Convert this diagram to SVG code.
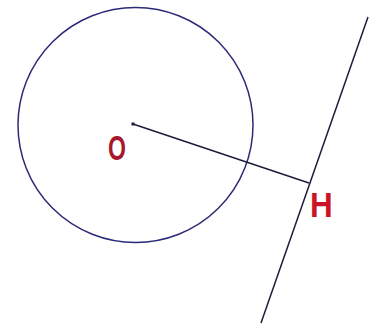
<svg xmlns="http://www.w3.org/2000/svg" width="381" height="327" viewBox="0 0 381 327">
<style>
.shape{fill:none;stroke:#2a2a78;stroke-width:1.5}
.ln{fill:none;stroke:#1c1c3c;stroke-width:1.5}
.lbl{font-family:"Liberation Sans",Arial,sans-serif;font-weight:bold;font-size:35px}
</style>
<rect width="381" height="327" fill="#ffffff"/>
<g id="circle"><circle class="shape" cx="135.5" cy="125" r="117.5"/></g>
<g id="connectors">
<line class="ln" x1="368" y1="17" x2="261" y2="323"/>
<line class="ln" x1="133" y1="124" x2="309" y2="183"/>
</g>
<g id="O">
<rect x="131.5" y="122.5" width="3" height="3" fill="#1c1c3c"/>
<text class="lbl" fill="#a8182c" transform="translate(108,160) scale(0.66,1)">O</text>
</g>
<g id="H">
<text class="lbl" fill="#cc1428" transform="translate(310,217) scale(0.9,1)">H</text>
</g>
</svg>
